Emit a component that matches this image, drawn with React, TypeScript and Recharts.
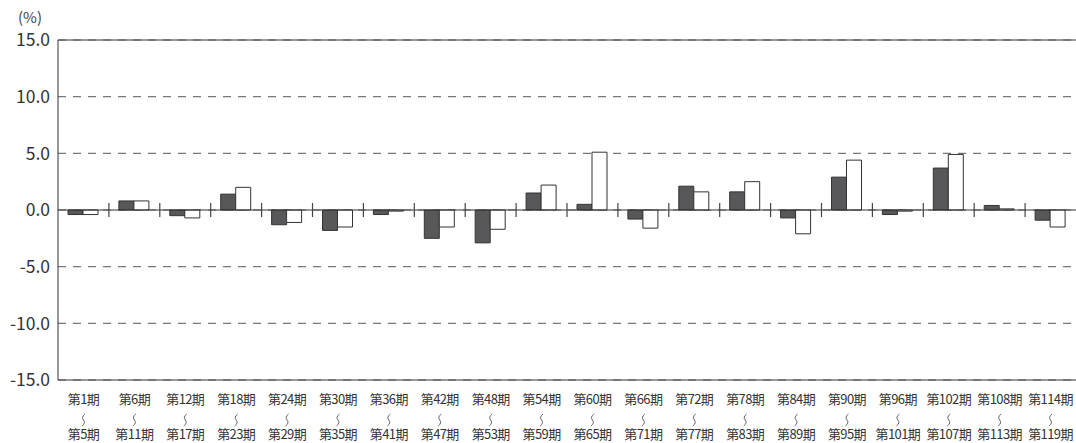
import { BarChart, Bar, XAxis, YAxis, CartesianGrid, ReferenceLine } from "recharts";

// 期間ラベル（開始期・終了期）
const startLabels = ["第1期", "第6期", "第12期", "第18期", "第24期", "第30期", "第36期", "第42期", "第48期", "第54期",
  "第60期", "第66期", "第72期", "第78期", "第84期", "第90期", "第96期", "第102期", "第108期", "第114期"];
const endLabels = ["第5期", "第11期", "第17期", "第23期", "第29期", "第35期", "第41期", "第47期", "第53期", "第59期",
  "第65期", "第71期", "第77期", "第83期", "第89期", "第95期", "第101期", "第107期", "第113期", "第119期"];

// 系列の値（%）
const darkValues = [-0.4, 0.8, -0.5, 1.4, -1.3, -1.8, -0.4, -2.5, -2.9, 1.5,
  0.5, -0.8, 2.1, 1.6, -0.7, 2.9, -0.4, 3.7, 0.4, -0.9];
const whiteValues = [-0.4, 0.8, -0.7, 2.0, -1.1, -1.5, -0.1, -1.5, -1.7, 2.2,
  5.1, -1.6, 1.6, 2.5, -2.1, 4.4, -0.1, 4.9, 0.1, -1.5];

const yTicks = [-15, -10, -5, 0, 5, 10, 15];

const data = startLabels.map((s, i) => ({ name: s, end: endLabels[i], a: darkValues[i], b: whiteValues[i] }));

const FONT = '"Noto Sans CJK JP", "Noto Sans", sans-serif';

function PeriodTick(props: any) {
  const { x, y, payload, index } = props;
  const wy = y + 32;
  return (
    <g>
      <text x={x} y={y + 15.5} textAnchor="middle" fill="#333" fontSize={13} fontFamily={FONT} letterSpacing={-0.6}>
        {payload.value}
      </text>
      <path d={`M${x + 1.5},${wy - 6} Q${x - 2.5},${wy - 3} ${x},${wy} Q${x + 2.5},${wy + 3} ${x - 1.5},${wy + 6}`}
        fill="none" stroke="#555" strokeWidth={0.9} />
      <text x={x} y={y + 50.5} textAnchor="middle" fill="#333" fontSize={13} fontFamily={FONT} letterSpacing={-0.6}>
        {endLabels[index]}
      </text>
    </g>
  );
}

// 区切り目盛り（0.0 の線上の短い縦線）
function ZeroTick(props: any) {
  const { x1, y1, y2 } = props;
  const mid = (y1 + y2) / 2;
  return <line x1={x1} x2={x1} y1={mid - 7} y2={mid + 7} stroke="#444" strokeWidth={1.2} />;
}

export default function App() {
  return (
    <div style={{ position: "absolute", left: 0, top: 0, width: 1076, height: 443, background: "#fff" }}>
      <span style={{ position: "absolute", left: 18, top: 6, fontSize: 15, color: "#444", fontFamily: FONT }}>(%)</span>
      <BarChart width={1076} height={443} data={data} barSize={15} barGap={0}
        margin={{ top: 40, right: 0, bottom: 3, left: 0 }}>
        <CartesianGrid vertical={false} stroke="#777" strokeWidth={1.2} strokeDasharray="8 7" />
        <XAxis dataKey="name" height={60} tickLine={false} axisLine={{ stroke: "#333" }}
          interval={0} tick={<PeriodTick />} />
        <YAxis width={58} domain={[-15, 15]} ticks={yTicks} tickLine={false}
          axisLine={{ stroke: "#333" }} tickFormatter={(v: number) => v.toFixed(1)}
          tick={{ fill: "#333", fontSize: 17.5, fontFamily: FONT }} />
        <ReferenceLine y={15} stroke="#333" />
        <ReferenceLine y={0} stroke="#333" />
        {startLabels.slice(1).map((s) => (
          <ReferenceLine key={s} x={s} position="start" shape={<ZeroTick />} />
        ))}
        <Bar dataKey="a" fill="#58585a" stroke="#333" strokeWidth={1} isAnimationActive={false} />
        <Bar dataKey="b" fill="#fff" stroke="#333" strokeWidth={1} isAnimationActive={false} />
      </BarChart>
    </div>
  );
}
